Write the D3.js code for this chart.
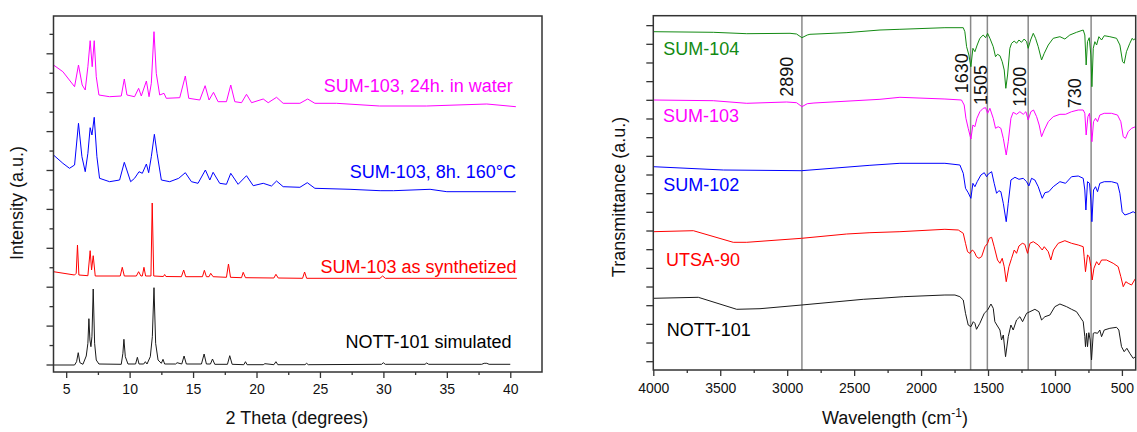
<!DOCTYPE html>
<html><head><meta charset="utf-8">
<script src="https://cdn.jsdelivr.net/npm/d3@7"></script>
<style>
body{margin:0;background:#fff}
svg{display:block}
text{font-family:"Liberation Sans",Arial,sans-serif}
</style>
</head><body>
<svg id="c" width="1137" height="432"></svg>
<script>
// ===== Left panel: PXRD (2θ in degrees, offset intensity a.u.) =====
const xrdTicksMajor = [5,10,15,20,25,30,35,40];
const xrdTicksMinor = [7.5,12.5,17.5,22.5,27.5,32.5,37.5];
const xrdLabels = ["SUM-103, 24h. in water","SUM-103, 8h. 160°C","SUM-103 as synthetized","NOTT-101 simulated"];

const sum103Water = [[4.0,307],[4.74,300.3],[5.66,285.3],[5.97,307],[6.26,287],[6.5,282],[6.71,305.3],[6.89,331.3],[7.05,305.3],[7.21,331.3],[7.37,295.3],[7.58,277],[8.42,275.3],[9.34,276],[9.58,293],[9.79,277],[10.39,275.3],[10.71,283.7],[10.92,276],[11.32,291],[11.53,275.3],[11.71,288.7],[11.92,340.3],[12.1,298.7],[12.37,277],[12.71,278.7],[12.89,273.7],[13.95,274.3],[14.39,296],[14.66,273.7],[15.53,272],[15.95,286.3],[16.26,272],[16.61,279.7],[16.97,270.3],[17.63,270.3],[17.97,287],[18.29,270.3],[18.82,269.3],[19.21,277.7],[19.61,269.3],[20.53,273],[20.92,269.3],[21.58,274.7],[22.1,268.7],[23.42,268.7],[24.03,273],[24.6,268.7],[26.3,268.7],[29.7,266],[33.4,266],[38.15,268],[40.44,265.3]];

const sum103Heat = [[4.0,217],[4.74,208.7],[5.26,203.7],[5.66,207],[5.97,248.7],[6.24,215.3],[6.5,200.3],[6.71,218.7],[6.89,244.3],[7.03,237],[7.21,254.7],[7.42,215.3],[7.63,193.7],[8.42,190.3],[9.21,192],[9.58,209.7],[10.08,190.3],[10.39,193.7],[10.74,200.3],[11.0,198.7],[11.32,208],[11.5,199.3],[11.71,215.3],[11.95,237.7],[12.16,218.7],[12.5,192],[13.16,190.3],[13.87,193.7],[14.39,199.3],[14.87,190.3],[15.39,188.7],[15.97,202],[16.32,192],[16.58,199.7],[17.1,188.7],[17.63,187.7],[17.97,198.7],[18.55,187.7],[19.21,196.3],[19.74,186.3],[20.53,188.7],[21.18,186],[21.58,191],[22.1,185.3],[23.42,184.7],[24.0,189.3],[24.6,183.7],[27.37,182.7],[29.74,181.3],[30.8,181.3],[33.68,182.7],[35.0,180.3],[40.44,180.3]];

const sum103Synth = [[4.0,100.3],[5.66,97],[5.79,98.7],[5.89,127],[6.0,97],[6.71,96.3],[6.89,121.3],[7.0,102],[7.13,116.3],[7.29,96],[9.26,96],[9.42,104.7],[9.58,96],[10.53,96],[10.71,100.3],[10.89,96],[11.0,96],[11.13,104.7],[11.26,96],[11.68,96],[11.78,169],[11.9,96],[12.66,95.5],[12.76,97.5],[12.86,95.5],[14.08,95.3],[14.26,102],[14.42,95.3],[15.74,95.3],[15.89,101.7],[16.05,95.3],[16.26,95.3],[16.39,98.7],[16.58,95.3],[17.63,94.7],[17.79,108],[17.95,94.7],[18.82,94.3],[18.95,99.7],[19.13,94.3],[21.37,94],[21.53,97.7],[21.71,94],[23.63,93.7],[23.79,100],[23.95,93.7],[29.73,93.7],[29.94,96],[30.15,93.7],[40.52,93.7]];

const nott101Sim = [[4.0,7],[5.66,7],[5.82,10.3],[5.95,19.3],[6.08,9.3],[6.32,7.7],[6.58,16],[6.71,28.7],[6.79,53.3],[6.87,32],[6.95,25.3],[7.03,35.3],[7.13,83],[7.24,28.7],[7.37,12],[7.58,8],[9.34,7.7],[9.47,18.7],[9.55,32.7],[9.66,15.3],[9.87,8],[10.47,8],[10.61,14.7],[10.74,8],[11.11,8],[11.24,10.3],[11.37,8],[11.63,15.3],[11.79,35.3],[11.92,84.3],[12.05,28.7],[12.24,12],[12.5,8.7],[12.63,12.7],[12.76,8],[13.63,8],[13.74,9.3],[14.11,8],[14.29,16],[14.47,8],[15.66,8],[15.87,18],[16.05,8],[16.37,8],[16.53,13],[16.71,7.7],[17.71,7.7],[17.89,16.3],[18.08,7.7],[19.0,7.3],[19.13,10.3],[19.26,7.3],[20.53,7.3],[20.66,8.3],[21.37,7.3],[21.53,10.3],[21.68,7.3],[23.82,7.3],[23.95,8.7],[24.08,7.3],[29.86,7.7],[29.99,9.3],[30.15,7.7],[33.28,7.7],[33.41,9],[33.57,7.7],[37.75,7.7],[37.94,8.7],[38.15,8.7],[38.33,7.7],[40.0,7.7]];

// ===== Right panel: FTIR (wavenumber cm-1, offset transmittance a.u.) =====
const irTicksMajor = [4000,3500,3000,2500,2000,1500,1000,500];
const irTicksMinor = [3750,3250,2750,2250,1750,1250,750];
const irMarkers = [2890,1630,1505,1200,730];
const irLabels = ["SUM-104","SUM-103","SUM-102","UTSA-90","NOTT-101"];

const irSum104 = [[4000,338.3],[3552,337.7],[3302,336.3],[2979,336.7],[2930,336],[2890,332.3],[2850,335],[2830,335.7],[2560,337.3],[2307,340],[2158,340.7],[1822,342.3],[1685,342.3],[1673,338.3],[1660,323.3],[1643,315],[1628,303.3],[1613,321.7],[1598,318.3],[1581,325],[1561,331.7],[1536,335],[1518,332.3],[1503,336.7],[1486,331.7],[1461,323.3],[1444,313.3],[1429,315.7],[1411,314.3],[1394,308.3],[1379,300],[1367,281.7],[1354,295],[1337,321.7],[1324,326.7],[1304,329],[1287,326.7],[1269,330],[1250,327.7],[1230,331],[1212,328.3],[1200,321.7],[1182,330],[1162,336.7],[1145,331.7],[1125,323.3],[1100,310],[1080,316.7],[1050,325],[1013,331.7],[963,333.3],[926,331],[889,335],[839,337.7],[789,340],[777,335],[767,305],[757,328.3],[744,332.3],[732,315],[724,283.3],[714,321.7],[702,328.3],[689,325],[672,333.3],[652,330],[632,334.3],[590,333.3],[540,331.7],[515,325],[495,308.3],[483,306.7],[466,318.3],[441,326.7],[423,331.7],[413,330],[398,331.7]];

const irSum103 = [[4000,270],[3552,269.3],[3302,266.7],[3004,268],[2930,267.3],[2890,263.3],[2850,266.3],[2800,267],[2307,270.7],[2158,272.7],[1822,271],[1698,270],[1678,265],[1665,251.7],[1648,241.7],[1628,231],[1613,245],[1598,243.3],[1583,251.7],[1561,258.3],[1536,261.7],[1518,262.3],[1503,256.7],[1486,261.7],[1461,251.7],[1444,241.7],[1424,243.3],[1404,241.7],[1386,231.7],[1364,215],[1349,228.3],[1329,251.7],[1312,257.7],[1287,255.7],[1262,258.3],[1237,255.7],[1217,258.3],[1200,250],[1180,258.3],[1160,260],[1137,253.3],[1118,245],[1100,233.3],[1080,240],[1050,248.3],[1013,253.3],[963,255.7],[921,255.7],[876,258.3],[826,260],[789,260],[777,256.7],[767,235],[754,253.3],[742,256.7],[732,241.7],[724,228.3],[712,248.3],[697,251.7],[682,248.3],[665,255],[632,256.7],[578,256.7],[533,255],[508,248.3],[490,233.3],[473,231.7],[453,238.3],[428,241.7],[398,243.3]];

const irSum102 = [[4000,203.3],[3477,200],[2892,199.3],[2382,204.7],[2158,206.7],[1822,206.7],[1710,205],[1685,196.7],[1668,181.7],[1648,177.3],[1628,171.7],[1613,186.7],[1598,183.3],[1581,188.3],[1553,195],[1528,197.3],[1511,193.3],[1498,196],[1473,198.3],[1454,186.7],[1436,176.7],[1419,179.3],[1404,178.3],[1386,166.7],[1364,148.3],[1349,166.7],[1329,190],[1299,192.7],[1269,190.7],[1237,191.7],[1212,188.3],[1195,184],[1175,191.7],[1150,190],[1125,183.3],[1095,171.7],[1075,177.3],[1046,178.3],[1013,183.3],[963,188.3],[921,186.7],[876,193.3],[826,194],[789,191.7],[777,180],[769,160],[757,188.3],[742,186.7],[732,170],[724,148.3],[712,180],[697,183.3],[682,178.3],[665,186.7],[632,188.3],[578,188.3],[533,186.7],[515,176.7],[498,158.3],[478,155],[441,156.7],[416,158.3],[398,156.7]];

const irUtsa90 = [[4000,138.3],[3701,139.3],[3403,127.7],[3302,127.7],[2892,131.7],[2556,136],[2382,137.3],[2158,138.3],[1822,140.7],[1722,140],[1685,136.7],[1668,126.7],[1653,118.3],[1635,116.7],[1618,120],[1603,118.3],[1586,113.3],[1568,111.7],[1548,113.3],[1523,123.3],[1503,126.7],[1491,131.7],[1473,132.7],[1454,123.3],[1429,110],[1411,106.7],[1394,111.7],[1379,103.3],[1364,88.3],[1344,103.3],[1324,111.7],[1304,120],[1287,116.7],[1269,124],[1244,126.7],[1225,125.7],[1205,116.7],[1187,126.7],[1162,128.3],[1125,125],[1095,120],[1080,123.3],[1050,118.3],[1031,110],[1011,120],[976,126.7],[926,129.3],[876,126.7],[826,125],[789,123.3],[782,113.3],[772,98.3],[757,115],[744,113.3],[732,103.3],[722,90],[709,101.7],[689,108.3],[672,105],[652,110],[615,110],[565,106.7],[528,103.3],[508,93.3],[490,83.3],[471,88.3],[453,86.7],[428,85],[398,91.7]];

const irNott101 = [[4000,71.7],[3664,72.7],[3377,60.7],[3203,61.3],[2892,65],[2432,70.7],[2307,71.7],[2133,73.3],[1822,75],[1747,75],[1710,73.3],[1685,70],[1668,56.7],[1648,45],[1628,43.3],[1610,48.3],[1598,46.7],[1586,40.7],[1561,46.7],[1528,56.7],[1503,60],[1478,66],[1461,61.7],[1449,48.3],[1434,45],[1411,40],[1399,30],[1386,35],[1369,13.3],[1349,33.3],[1329,45],[1312,40],[1287,50],[1262,53.3],[1242,48.3],[1212,56.7],[1187,58.3],[1150,60.7],[1120,58.3],[1100,50],[1075,53.3],[1038,55],[1001,63.3],[963,66],[913,63.3],[876,60.7],[839,58.3],[814,53.3],[789,48.3],[777,33.3],[772,23.3],[764,36.7],[757,23.3],[747,37.3],[737,30],[727,10],[714,36.7],[702,37.3],[682,36.7],[665,40],[652,33.3],[632,40],[590,41.7],[540,42.7],[523,40],[503,23.3],[483,18.3],[463,21.7],[441,16.7],[416,11.7],[398,13.3]];

// ===== Drawing =====
const svg = d3.select('#c');
const frameColor = '#333';
const fontStack = '"Liberation Sans", Arial, sans-serif';

function drawAxes(g, x, y, yTicks, yTickLen, xPad) {
  const [x0, x1] = x.range();
  const [y0, y1] = y.range();
  // x major
  g.append('g').attr('transform', `translate(0,${y0})`)
    .call(d3.axisBottom(x).tickValues(g.datum().xMajor).tickSize(6).tickPadding(xPad).tickFormat(d3.format('d')))
    .call(a => a.select('.domain').remove())
    .call(a => a.selectAll('line').attr('stroke', frameColor).attr('stroke-width', 1.3))
    .call(a => a.selectAll('text').attr('font-size', 14).attr('fill', '#111').attr('font-family', fontStack));
  g.append('g').attr('transform', `translate(0,${y0})`)
    .call(d3.axisBottom(x).tickValues(g.datum().xMinor).tickSize(3).tickFormat(''))
    .call(a => a.select('.domain').remove())
    .call(a => a.selectAll('line').attr('stroke', frameColor).attr('stroke-width', 1.3));
  // y ticks
  yTicks.forEach(t => {
    g.append('line').attr('x1', x0).attr('x2', x0 - yTickLen(t.k))
      .attr('y1', y(t.v)).attr('y2', y(t.v))
      .attr('stroke', frameColor).attr('stroke-width', 1.3);
  });
  g.append('rect').attr('x', x0).attr('y', y1).attr('width', x1 - x0).attr('height', y0 - y1)
    .attr('fill', 'none').attr('stroke', frameColor).attr('stroke-width', 1.5);
}

// ---- Left panel ----
const xL = d3.scaleLinear().domain([4, 42.5]).range([53.5, 542]);
const yL = d3.scaleLinear().domain([0, 356]).range([372, 16]);
const gL = svg.append('g').datum({xMajor: xrdTicksMajor, xMinor: xrdTicksMinor});
svg.append('clipPath').attr('id', 'clipL').append('rect')
  .attr('x', 53.5).attr('y', 16).attr('width', 488.5).attr('height', 356);

const lineL = d3.line().x(d => xL(d[0])).y(d => yL(d[1]));
const xrdSeries = [
  {data: sum103Water, color: '#ff00ff'},
  {data: sum103Heat, color: '#0000ff'},
  {data: sum103Synth, color: '#ff0000'},
  {data: nott101Sim, color: '#1a1a1a'}
];
const gLc = gL.append('g').attr('clip-path', 'url(#clipL)');
xrdSeries.forEach(s => {
  gLc.append('path').attr('d', lineL(s.data)).attr('fill', 'none')
    .attr('stroke', s.color).attr('stroke-width', 1).attr('stroke-linejoin', 'round');
});
const yLTicks = d3.range(18).map(k => ({k, v: 7 + 19.45 * k}));
drawAxes(gL, xL, yL, yLTicks, k => (k % 2 === 0 ? 7 : 4), 6);

// left series labels (right aligned)
const xrdLabelPos = [
  {x: 40.2, v: 280, color: '#ff00ff'},
  {x: 40.45, v: 194.5, color: '#0000ff'},
  {x: 40.5, v: 99.5, color: '#ff0000'},
  {x: 40.1, v: 24.5, color: '#000'}
];
xrdLabels.forEach((t, i) => {
  const p = xrdLabelPos[i];
  gL.append('text').attr('x', xL(p.x)).attr('y', yL(p.v))
    .attr('text-anchor', 'end').attr('font-size', 18).attr('fill', p.color).text(t);
});
gL.append('text').attr('x', 297).attr('y', 424).attr('text-anchor', 'middle')
  .attr('font-size', 18).attr('fill', '#111').text('2 Theta (degrees)');
gL.append('text').attr('transform', 'translate(23,203) rotate(-90)').attr('text-anchor', 'middle')
  .attr('font-size', 18).attr('fill', '#111').text('Intensity (a.u.)');

// ---- Right panel ----
const xR = d3.scaleLinear().domain([4000, 397]).range([653.3, 1135.7]);
const yR = d3.scaleLinear().domain([0, 354.3]).range([370, 15.7]);
const gR = svg.append('g').datum({xMajor: irTicksMajor, xMinor: irTicksMinor});
svg.append('clipPath').attr('id', 'clipR').append('rect')
  .attr('x', 653.3).attr('y', 15.7).attr('width', 482.4).attr('height', 354.3);

// marker lines
irMarkers.forEach(m => {
  gR.append('line').attr('x1', xR(m)).attr('x2', xR(m)).attr('y1', yR(0)).attr('y2', yR(354.3))
    .attr('stroke', '#8a8a8a').attr('stroke-width', 1.5);
});

const lineR = d3.line().x(d => xR(d[0])).y(d => yR(d[1]));
const irSeries = [
  {data: irSum104, color: '#138a13'},
  {data: irSum103, color: '#ff00ff'},
  {data: irSum102, color: '#0000ff'},
  {data: irUtsa90, color: '#ff0000'},
  {data: irNott101, color: '#1a1a1a'}
];
const gRc = gR.append('g').attr('clip-path', 'url(#clipR)');
irSeries.forEach(s => {
  gRc.append('path').attr('d', lineR(s.data)).attr('fill', 'none')
    .attr('stroke', s.color).attr('stroke-width', 1).attr('stroke-linejoin', 'round');
});
const yRTicks = d3.range(19).map(k => ({k, v: 8.3 + 18.67 * k}));
drawAxes(gR, xR, yR, yRTicks, k => 7, 7);

// marker labels (rotated)
const markerLabelPos = [
  {w: 2890, dx: -9, v: 273.3},
  {w: 1630, dx: -3, v: 276.7},
  {w: 1505, dx: 0, v: 265},
  {w: 1200, dx: -2, v: 263.3},
  {w: 730, dx: -10, v: 261.7}
];
markerLabelPos.forEach(p => {
  gR.append('text')
    .attr('transform', `translate(${xR(p.w) + p.dx},${yR(p.v)}) rotate(-90)`)
    .attr('text-anchor', 'start').attr('font-size', 18).attr('fill', '#111').text(String(p.w));
});

// series labels
const irLabelPos = [
  {w: 3925, v: 315, color: '#138a13'},
  {w: 3927, v: 247.7, color: '#ff00ff'},
  {w: 3925, v: 179.3, color: '#0000ff'},
  {w: 3905, v: 104.3, color: '#ff0000'},
  {w: 3900, v: 34.3, color: '#000'}
];
irLabels.forEach((t, i) => {
  const p = irLabelPos[i];
  gR.append('text').attr('x', xR(p.w)).attr('y', yR(p.v))
    .attr('font-size', 18).attr('fill', p.color).text(t);
});

const xt = gR.append('text').attr('x', 895).attr('y', 424).attr('text-anchor', 'middle')
  .attr('font-size', 18).attr('fill', '#111');
xt.append('tspan').text('Wavelength (cm');
xt.append('tspan').attr('font-size', 12).attr('dy', -7).text('-1');
xt.append('tspan').attr('dy', 7).text(')');
gR.append('text').attr('transform', 'translate(625,197) rotate(-90)').attr('text-anchor', 'middle')
  .attr('font-size', 18).attr('fill', '#111').text('Transmittance (a.u.)');
</script>
</body></html>
